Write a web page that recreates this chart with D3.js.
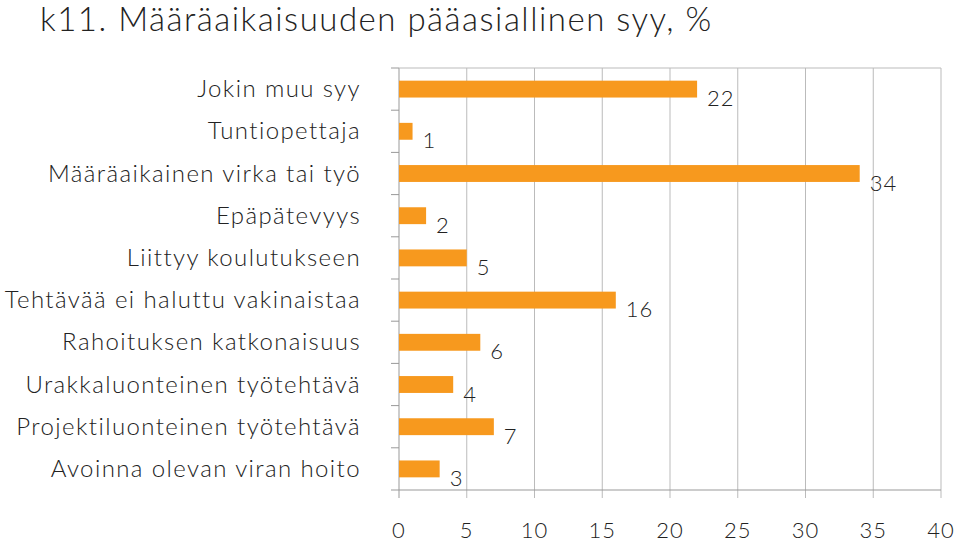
<!DOCTYPE html><html><head><meta charset="utf-8"><script src="https://cdn.jsdelivr.net/npm/d3@7"></script>
<style>body{margin:0;background:#fff}text{font-family:Lato,"Open Sans",sans-serif;font-weight:300;fill:#222}</style></head><body>
<svg id="c" width="960" height="545"></svg>
<script>
const categories=["Jokin muu syy","Tuntiopettaja","Määräaikainen virka tai työ","Epäpätevyys","Liittyy koulutukseen","Tehtävää ei haluttu vakinaistaa","Rahoituksen katkonaisuus","Urakkaluonteinen työtehtävä","Projektiluonteinen työtehtävä","Avoinna olevan viran hoito"];
const values=[22,1,34,2,5,16,6,4,7,3];
const ticks=[0,5,10,15,20,25,30,35,40];
const svg=d3.select("#c");
const x=d3.scaleLinear().domain([0,40]).range([399,941]);
const y=d3.scaleBand().domain(categories).range([68,490]).paddingInner(0.6).paddingOuter(0.3);
svg.append("text").attr("x",40).attr("y",31).style("font-size","33px").style("letter-spacing","1.5px").text("k11. Määräaikaisuuden pääasiallinen syy, %");
svg.append("g").selectAll("line").data(ticks).join("line").attr("x1",d=>x(d)).attr("x2",d=>x(d)).attr("y1",68).attr("y2",498).attr("stroke",d=>d===0?"#999":"#bbb").attr("stroke-width",1);
svg.append("line").attr("x1",399).attr("x2",941).attr("y1",490).attr("y2",490).attr("stroke","#999");
svg.append("line").attr("x1",399).attr("x2",941).attr("y1",68).attr("y2",68).attr("stroke","#bbb");
const step=(490-68)/categories.length;
svg.append("g").selectAll("line").data(d3.range(categories.length+1)).join("line").attr("x1",391).attr("x2",399).attr("y1",d=>68+d*step).attr("y2",d=>68+d*step).attr("stroke","#999");
svg.append("g").selectAll("rect").data(values).join("rect").attr("x",x(0)).attr("y",(d,i)=>y(categories[i])).attr("width",d=>x(d)-x(0)).attr("height",y.bandwidth()).attr("fill","#F7991E");
svg.append("g").selectAll("text").data(values).join("text").attr("x",d=>x(d)+10).attr("y",(d,i)=>y(categories[i])+y.bandwidth()/2+17).style("font-size","22px").style("letter-spacing","1px").text(d=>d);
svg.append("g").selectAll("text").data(categories).join("text").attr("x",361).attr("y",d=>y(d)+y.bandwidth()/2+8).attr("text-anchor","end").style("font-size","24px").style("letter-spacing","1.4px").text(d=>d);
svg.append("g").selectAll("text").data(ticks).join("text").attr("x",d=>x(d)).attr("y",538).attr("text-anchor","middle").style("font-size","22px").style("letter-spacing","1px").text(d=>d);
</script></body></html>
